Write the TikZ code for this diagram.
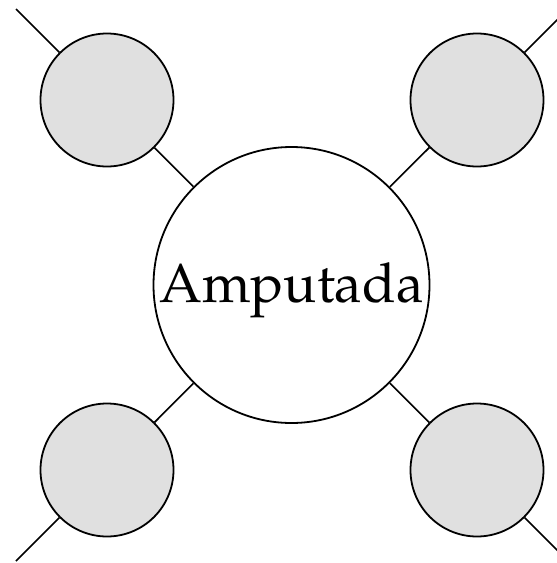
\documentclass[tikz,border=0pt]{standalone}
\usepackage[T1]{fontenc}
\usepackage{mathpazo}
\begin{document}
\begin{tikzpicture}[x=1pt,y=-1pt,
  small/.style={circle,draw=black,line width=1.8pt,fill=black!12,minimum size=133pt,inner sep=0pt},
  big/.style={circle,draw=black,line width=1.8pt,fill=white,minimum size=276pt,inner sep=0pt},
  link/.style={draw=black,line width=1.6pt},
  lbl/.style={font=\fontsize{55}{58}\selectfont,inner sep=0pt,anchor=base}]
\useasboundingbox (0,0) rectangle (557,563);
\node[big] (c) at (291.5,285) {};
\node[lbl] (t) at (291.5,302) {Amputada};
\node[small] (tl) at (107,100) {};
\node[small] (tr) at (477,100) {};
\node[small] (bl) at (107,470) {};
\node[small] (br) at (477,470) {};
\coordinate (etl) at (16,9);
\coordinate (etr) at (568,9);
\coordinate (ebl) at (16,561);
\coordinate (ebr) at (568,561);
\draw[link] (etl) -- (tl);
\draw[link] (etr) -- (tr);
\draw[link] (ebl) -- (bl);
\draw[link] (ebr) -- (br);
\draw[link] (tl) -- (c);
\draw[link] (tr) -- (c);
\draw[link] (bl) -- (c);
\draw[link] (br) -- (c);
\end{tikzpicture}
\end{document}
